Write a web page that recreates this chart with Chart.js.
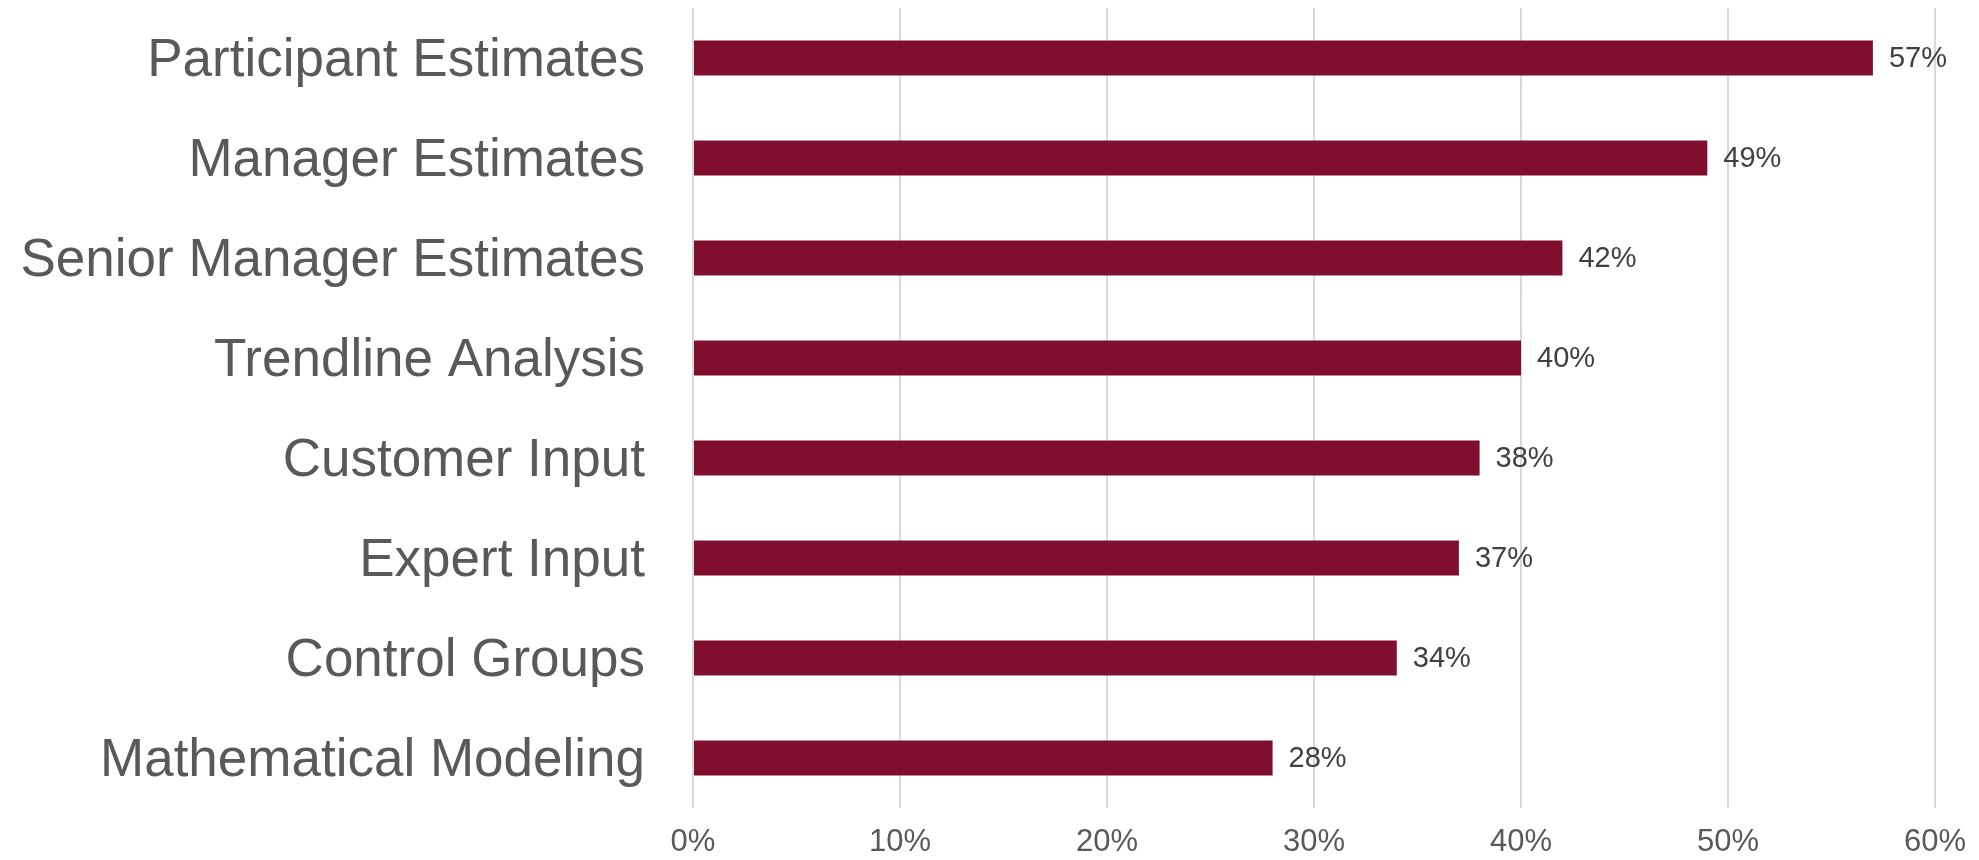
<!DOCTYPE html>
<html>
<head>
<meta charset="utf-8">
<script src="https://cdn.jsdelivr.net/npm/chart.js@4/dist/chart.umd.min.js"></script>
<style>
  html, body { margin: 0; padding: 0; background: #fff; }
  #wrap { width: 1979px; height: 860px; }
</style>
</head>
<body>
<div id="wrap"><canvas id="myChart" width="1979" height="860"></canvas></div>
<script>
const categories = [
  "Participant Estimates",
  "Manager Estimates",
  "Senior Manager Estimates",
  "Trendline Analysis",
  "Customer Input",
  "Expert Input",
  "Control Groups",
  "Mathematical Modeling"
];
const values = [57, 49, 42, 40, 38, 37, 34, 28];
const xTicks = [0, 10, 20, 30, 40, 50, 60];

const FONT = "'Liberation Sans', Arial, sans-serif";

// value labels at the end of each bar
const barLabels = {
  id: "barLabels",
  afterDatasetsDraw(chart) {
    const c = chart.ctx;
    c.save();
    c.font = "29px " + FONT;
    c.fillStyle = "#404040";
    c.textAlign = "left";
    c.textBaseline = "middle";
    chart.getDatasetMeta(0).data.forEach((bar, i) => {
      c.fillText(values[i] + "%", bar.x + 16, bar.y + 1);
    });
    c.restore();
  }
};

const ctx = document.getElementById("myChart").getContext("2d");
const myChart = new Chart(ctx, {
  type: "bar",
  data: {
    labels: categories,
    datasets: [{
      data: values,
      backgroundColor: "#800e2f",
      borderWidth: 0,
      barPercentage: 0.35,
      categoryPercentage: 1
    }]
  },
  options: {
    indexAxis: "y",
    responsive: false,
    animation: false,
    layout: { padding: { top: 8, left: 0, right: 44, bottom: 0 } },
    plugins: { legend: { display: false }, tooltip: { enabled: false } },
    scales: {
      x: {
        min: 0,
        max: 60,
        afterBuildTicks: (axis) => { axis.ticks = xTicks.map(v => ({ value: v })); },
        afterFit: (axis) => {
          axis.height = 52;
          axis.paddingLeft = 0;
          axis.paddingRight = 0;
        },
        grid: { color: "#d9d9d9", lineWidth: 2, drawTicks: false },
        border: { display: false },
        ticks: {
          padding: 16,
          color: "#595959",
          font: { size: 31, family: FONT },
          callback: (v) => v + "%"
        }
      },
      y: {
        afterFit: (axis) => {
          axis.width = 693;
          axis.paddingTop = 0;
          axis.paddingBottom = 0;
        },
        grid: { display: false, drawTicks: false },
        border: { display: false },
        ticks: {
          padding: 48,
          labelOffset: 3,
          color: "#595959",
          font: { size: 53, family: FONT }
        }
      }
    }
  },
  plugins: [barLabels]
});
</script>
</body>
</html>
